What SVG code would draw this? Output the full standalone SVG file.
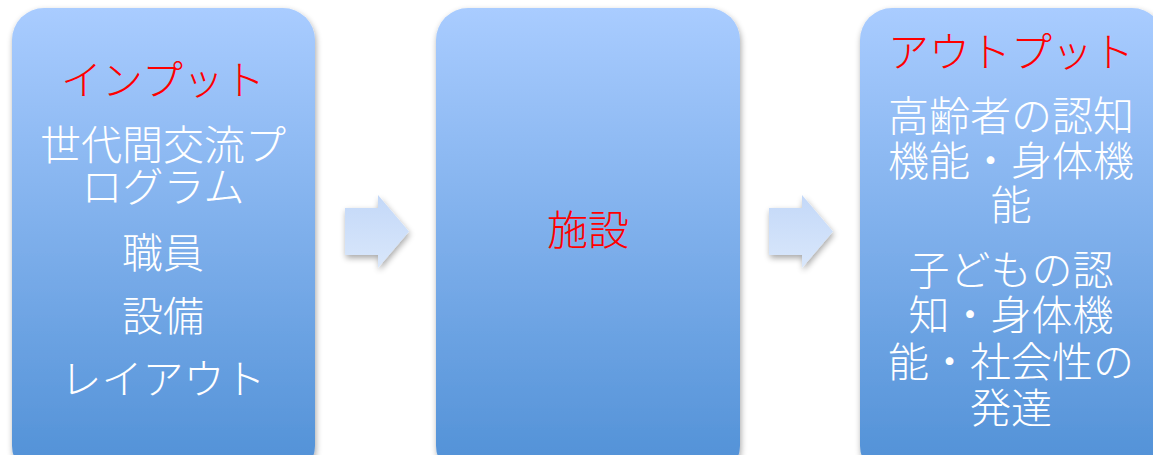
<svg xmlns="http://www.w3.org/2000/svg" width="1153" height="455" viewBox="0 0 1153 455">
<style>
.t{font-family:"Noto Sans CJK JP","Noto Sans CJK SC",sans-serif;font-size:41px;font-weight:300;text-anchor:middle;fill:#ffffff}
.r{fill:#ff0000}
</style>
<defs>
<linearGradient id="g" x1="0" y1="0" x2="0" y2="1">
<stop offset="0" stop-color="#a9ccff"/>
<stop offset="1" stop-color="#5090d6"/>
</linearGradient>
<linearGradient id="ga" x1="0" y1="0" x2="0" y2="1">
<stop offset="0" stop-color="#c3d8f8"/>
<stop offset="1" stop-color="#d9e7fb"/>
</linearGradient>
<filter id="sh" x="-10%" y="-10%" width="120%" height="120%">
<feGaussianBlur in="SourceAlpha" stdDeviation="3"/>
<feOffset dx="1" dy="3"/>
<feComponentTransfer><feFuncA type="linear" slope="0.35"/></feComponentTransfer>
<feMerge><feMergeNode/><feMergeNode in="SourceGraphic"/></feMerge>
</filter>
</defs>
<rect width="1153" height="455" fill="#ffffff"/>
<g id="connectors">
<path d="M345,208 H378 V195 L409,231.5 L378,268 V255 H345 Z" fill="url(#ga)" filter="url(#sh)"/>
<path d="M769,208 H802 V195 L833,231.5 L802,268 V255 H769 Z" fill="url(#ga)" filter="url(#sh)"/>
</g>
<g id="input">
<rect x="12" y="8" width="303" height="470" rx="32" fill="url(#g)" filter="url(#sh)"/>
<text class="t" x="163"><tspan class="r" x="163" y="95">インプット</tspan><tspan x="163" y="160">世代間交流プ</tspan><tspan x="163" y="202">ログラム</tspan><tspan x="163" y="268">職員</tspan><tspan x="163" y="331">設備</tspan><tspan x="163" y="394">レイアウト</tspan></text>
</g>
<g id="facility">
<rect x="436" y="8" width="304" height="470" rx="32" fill="url(#g)" filter="url(#sh)"/>
<text class="t r" x="588" y="245">施設</text>
</g>
<g id="output">
<rect x="860" y="8" width="304" height="470" rx="32" fill="url(#g)" filter="url(#sh)"/>
<text class="t" x="1011"><tspan class="r" x="1011" y="67">アウトプット</tspan><tspan x="1011" y="131">高齢者の認知</tspan><tspan x="1011" y="176">機能・身体機</tspan><tspan x="1011" y="220">能</tspan><tspan x="1011" y="285">子どもの認</tspan><tspan x="1011" y="330">知・身体機</tspan><tspan x="1011" y="377">能・社会性の</tspan><tspan x="1011" y="423">発達</tspan></text>
</g>
</svg>
